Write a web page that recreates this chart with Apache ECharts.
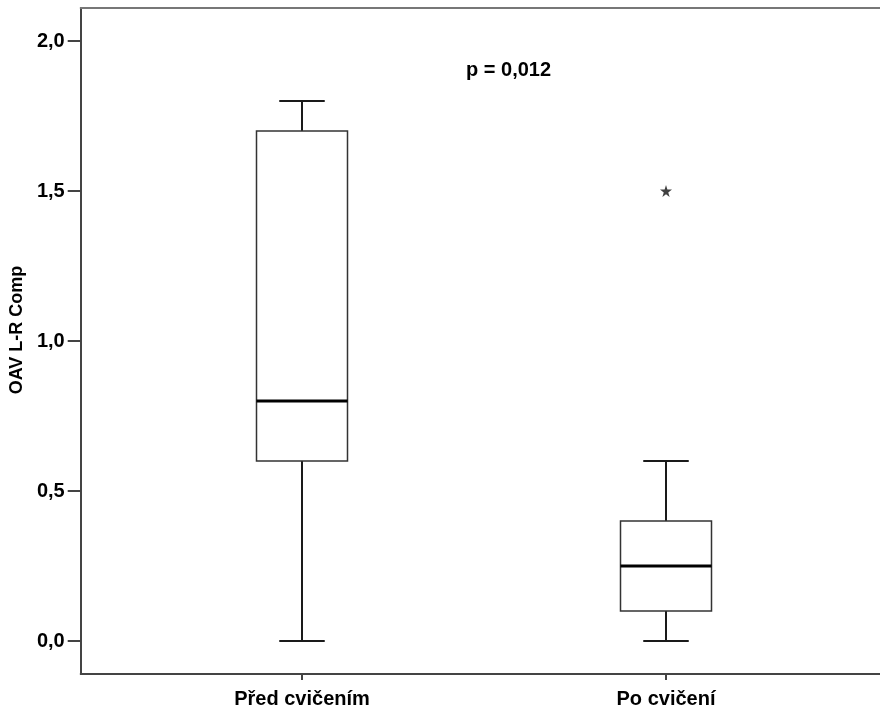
<!DOCTYPE html>
<html>
<head>
<meta charset="utf-8">
<script src="https://cdn.jsdelivr.net/npm/echarts@6/dist/echarts.min.js"></script>
<style>
  html, body { margin: 0; padding: 0; background: #fff; }
  #chart { width: 880px; height: 715px; }
</style>
</head>
<body>
<div id="chart"></div>
<script>
// Box plot summary per group
const categories = ['Před cvičením', 'Po cvičení'];
const whiskerLow = [0.0, 0.0];
const q1 = [0.6, 0.1];
const median = [0.8, 0.25];
const q3 = [1.7, 0.4];
const whiskerHigh = [1.8, 0.6];
// Extreme values: [group index, value]
const outliers = [[1, 1.5]];
const yTicks = [0, 0.5, 1.0, 1.5, 2.0];
const yName = 'OAV L-R Comp';
const pText = 'p = 0,012';

const FONT = '"Liberation Sans", Arial, sans-serif';
const fmt = v => v.toFixed(1).replace('.', ',');

const boxData = categories.map((c, i) => [i, whiskerLow[i], q1[i], median[i], q3[i], whiskerHigh[i]]);

function renderBox(params, api) {
  const idx = api.value(0);
  const band = api.size([1, 0])[0];
  const bw = band * 0.25;
  const cw = bw / 2;
  const pLow = api.coord([idx, api.value(1)]);
  const pQ1 = api.coord([idx, api.value(2)]);
  const pMed = api.coord([idx, api.value(3)]);
  const pQ3 = api.coord([idx, api.value(4)]);
  const pHigh = api.coord([idx, api.value(5)]);
  const x = pMed[0];
  const whisk = { stroke: '#1a1a1a', lineWidth: 2 };
  return {
    type: 'group',
    children: [
      { type: 'line', shape: { x1: x, y1: pQ3[1], x2: x, y2: pHigh[1] }, style: whisk },
      { type: 'line', shape: { x1: x, y1: pQ1[1], x2: x, y2: pLow[1] }, style: whisk },
      { type: 'line', shape: { x1: x - cw / 2, y1: pHigh[1], x2: x + cw / 2, y2: pHigh[1] }, style: whisk },
      { type: 'line', shape: { x1: x - cw / 2, y1: pLow[1], x2: x + cw / 2, y2: pLow[1] }, style: whisk },
      { type: 'rect', shape: { x: x - bw / 2, y: pQ3[1], width: bw, height: pQ1[1] - pQ3[1] },
        style: { fill: '#fff', stroke: '#333', lineWidth: 1.5 } },
      { type: 'line', shape: { x1: x - bw / 2, y1: pMed[1], x2: x + bw / 2, y2: pMed[1] },
        style: { stroke: '#000', lineWidth: 3 } }
    ]
  };
}

const yMin = -0.11, yMax = 2.11;
const chart = echarts.init(document.getElementById('chart'), null, { renderer: 'canvas' });
chart.setOption({
  animation: false,
  backgroundColor: '#fff',
  grid: [
    { left: 76, right: 0, top: 8, bottom: 41 },
    { left: 120, right: 32, top: 8, bottom: 41 }
  ],
  xAxis: [
    { gridIndex: 0, type: 'value', min: 0, max: 1, position: 'bottom',
      axisLine: { show: true, onZero: false, lineStyle: { color: '#444', width: 2 } },
      axisTick: { show: false }, axisLabel: { show: false }, splitLine: { show: false } },
    { gridIndex: 0, type: 'value', min: 0, max: 1, position: 'top',
      axisLine: { show: true, onZero: false, lineStyle: { color: '#777', width: 2 } },
      axisTick: { show: false }, axisLabel: { show: false }, splitLine: { show: false } },
    { gridIndex: 1, type: 'category', data: categories, position: 'bottom',
      axisLine: { show: false, onZero: false },
      axisTick: { show: true, alignWithLabel: true, length: 6, lineStyle: { color: '#444', width: 2 } },
      axisLabel: { margin: 15, color: '#000', fontFamily: FONT, fontWeight: 'bold', fontSize: 20 },
      splitLine: { show: false } }
  ],
  yAxis: [
    { gridIndex: 0, type: 'value', min: yMin, max: yMax,
      name: yName, nameLocation: 'middle', nameGap: 50, nameRotate: 90,
      nameTextStyle: { color: '#000', fontFamily: FONT, fontWeight: 'bold', fontSize: 18, padding: [0, 0, 0, 22] },
      axisLine: { show: true, onZero: false, lineStyle: { color: '#444', width: 2 } },
      axisTick: { show: true, length: 13, customValues: yTicks, lineStyle: { color: '#444', width: 2 } },
      axisLabel: { customValues: yTicks, margin: 16, color: '#000', fontFamily: FONT, fontWeight: 'bold', fontSize: 20,
        formatter: v => fmt(v) },
      splitLine: { show: false } },
    { gridIndex: 1, type: 'value', min: yMin, max: yMax,
      axisLine: { show: false }, axisTick: { show: false }, axisLabel: { show: false }, splitLine: { show: false } }
  ],
  graphic: [
    { type: 'text', left: 466, top: 60, silent: true,
      style: { text: pText, fill: '#000', font: 'bold 20px ' + FONT } }
  ],
  series: [
    { type: 'custom', xAxisIndex: 2, yAxisIndex: 1, data: boxData, renderItem: renderBox,
      encode: { x: 0, y: [1, 2, 3, 4, 5] }, z: 2 },
    { type: 'scatter', xAxisIndex: 2, yAxisIndex: 1, data: outliers,
      symbol: 'path://M50,0 L61,35 L98,35 L68,57 L79,91 L50,70 L21,91 L32,57 L2,35 L39,35 Z',
      symbolSize: 12, itemStyle: { color: '#111' }, z: 3 }
  ]
});
</script>
</body>
</html>
